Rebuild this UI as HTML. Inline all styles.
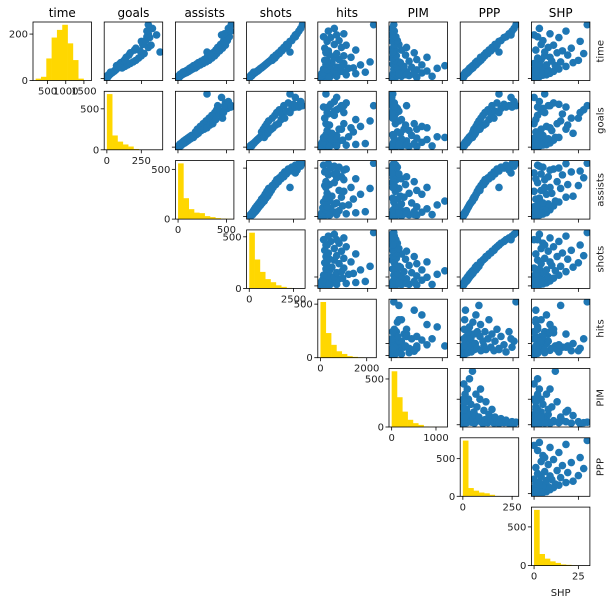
<!DOCTYPE html>
<html><head><meta charset="utf-8"><style>
html,body{margin:0;padding:0;background:#fff;}
svg{display:block;font-family:"DejaVu Sans","Liberation Sans",sans-serif;}
</style></head><body>
<svg id="chart" width="612" height="604" viewBox="0 0 612 604" xmlns="http://www.w3.org/2000/svg"></svg>
<script>
const varNames = ["time","goals","assists","shots","hits","PIM","PPP","SHP"];
const histRanges = [[171,1636],[0,386],[0,550],[0,3000],[0,2300],[0,1200],[0,270],[0,30]];
const xTicks = [[500,1000,1500],[0,250],[0,500],[0,2500],[0,2000],[0,1000],[0,250],[0,25]];
const yTicks = [[0,200],[0,500],[0,500],[0,500],[0,500],[0,500],[0,500],[0,500]];
const histTime = [8,16,95,185,218,240,160,88,8,0];
const histGoals = [680,175,100,65,40,10,0,0,0,0];
const histAssists = [560,210,100,65,60,30,20,10,5,3];
const histShots = [540,280,160,90,60,30,15,5,3,2];
const histHits = [520,230,120,60,35,15,8,3,2,1];
const histPIM = [580,310,160,75,40,22,5,2,1,1];
const histPPP = [740,110,75,50,40,20,5,2,1,1];
const histSHP = [720,150,90,55,35,15,10,3,1,1];
const histCounts = [histTime,histGoals,histAssists,histShots,histHits,histPIM,histPPP,histSHP];
// players: [time, goals, assists, shots, hits, PIM, PPP, SHP]
const players = [
[220,0,2,8,30,12,0,0],[230,1,1,15,90,40,0,1],[250,3,6,30,20,8,1,0],[240,2,9,40,160,90,2,2],
[260,6,4,70,60,200,1,0],[250,8,14,60,250,30,3,3],[280,5,18,90,120,350,2,1],[270,12,10,130,40,70,4,0],
[290,15,25,110,300,150,5,5],[280,10,30,160,90,20,8,2],[310,22,20,200,180,450,6,1],[300,18,40,170,500,100,10,7],
[330,28,35,260,70,60,12,0],[320,25,55,230,350,250,15,4],[350,35,45,320,650,600,11,2],[340,30,70,280,220,40,20,9],
[380,45,60,400,800,300,18,1],[360,40,90,350,120,150,25,6],[400,55,80,480,450,700,22,3],[390,50,110,430,950,80,30,11],
[430,65,100,560,300,500,28,0],[420,60,130,520,600,200,35,8],[470,75,120,650,1200,900,33,2],[450,70,150,600,150,50,42,14],
[500,85,140,740,700,400,40,5],[480,110,180,700,1400,120,50,1],[540,70,160,850,400,1050,48,12],[520,130,200,800,900,250,55,18],
[580,90,190,950,250,30,58,3],[560,150,230,900,1700,600,65,7],[620,100,210,1050,500,180,62,22],[600,170,260,1000,1000,80,72,0],
[660,120,240,1150,300,350,70,10],[640,190,290,1100,2100,150,80,15],[700,130,270,1250,800,500,85,4],[680,210,320,1300,200,60,90,25],
[760,140,300,1350,1300,700,88,9],[740,230,350,1450,600,20,100,2],[820,160,330,1500,400,280,105,19],[800,250,380,1550,1000,100,110,6],
[880,170,360,1650,250,450,115,13],[860,270,400,1700,700,40,125,28],[950,200,390,1800,1500,200,130,1],[930,240,430,1850,350,80,140,16],
[1020,300,410,1950,900,300,145,8],[1000,210,460,2000,200,30,155,21],[1100,260,440,2100,600,150,160,4],[1080,320,490,2200,1100,60,170,11],
[1180,250,470,2300,300,20,180,26],[1200,280,510,2400,800,120,190,5],[1280,310,500,2500,450,40,205,14],[1300,290,530,2600,150,90,215,2],
[1380,300,480,2700,1000,25,230,9],[1450,290,545,2800,350,60,245,18],[1520,330,520,2900,600,15,255,3],[1620,300,550,3000,2250,50,265,30],
[1350,360,450,2600,700,10,240,0],[900,385,300,2300,250,30,180,6],
[230,4,12,40,400,500,3,1],[260,9,20,80,700,800,5,0],[300,14,28,140,1100,300,7,2],[330,20,38,190,1500,150,9,4],[370,26,50,250,1900,450,13,1]
];
const svg = document.getElementById('chart');
const NS = 'http://www.w3.org/2000/svg';
const X0 = 33, PX = 71.2, Y0 = 22, PY = 69.3, W = 58.5, H = 58.5;
function mk(tag, attrs, parent){const e=document.createElementNS(NS,tag);for(const k in attrs)e.setAttribute(k,attrs[k]);(parent||svg).appendChild(e);return e;}
function lim(a,b){const r=b-a;return [a-0.05*r,b+0.05*r];}
function scale(d, r0, r1){return v => r0 + (v-d[0])/(d[1]-d[0])*(r1-r0);}
const dataLims = varNames.map((_,k)=>{const vals=players.map(p=>p[k]);return lim(Math.min(...vals),Math.max(...vals));});

for(let r=0;r<8;r++){
  for(let c=r;c<8;c++){
    const px = X0 + c*PX, py = Y0 + r*PY;
    const g = mk('g',{});
    
    
    let sx, sy;
    if(r===c){
      const hr = lim(histRanges[c][0],histRanges[c][1]);
      const counts = histCounts[c];
      const ymax = Math.max(...counts)*1.05;
      sx = scale(hr, px, px+W); sy = scale([0,ymax], py+H, py);
      const bw = (histRanges[c][1]-histRanges[c][0])/counts.length;
      counts.forEach((n,i)=>{
        if(n<=0) return;
        const a=histRanges[c][0]+i*bw;
        const b=mk('rect',{x:sx(a),y:sy(n),width:sx(a+bw)-sx(a)+0.3,height:sy(0)-sy(n),fill:'#ffd700'},g);
        
        
      });
      xTicks[c].forEach(t=>{const x=sx(t);mk('line',{x1:x,x2:x,y1:py+H,y2:py+H+3.5,stroke:'#000','stroke-width':0.8},g);
        const tx=mk('text',{x:x,y:py+H+14,'font-size':10,'text-anchor':'middle',fill:'#222'},g);tx.textContent=t;
        
        });
      yTicks[c].forEach(t=>{const y=sy(t);mk('line',{x1:px-3.5,x2:px,y1:y,y2:y,stroke:'#000','stroke-width':0.8},g);
        const tx=mk('text',{x:px-5,y:y+3.5,'font-size':10,'text-anchor':'end',fill:'#222'},g);tx.textContent=t;
        
        });
    } else {
      sx = scale(dataLims[c], px, px+W); sy = scale(dataLims[r], py+H, py);
      const cp = mk('clipPath',{id:'cp'+r+'_'+c},g);
      mk('rect',{x:px,y:py,width:W,height:H},cp);
      const pg = mk('g',{'clip-path':'url(#cp'+r+'_'+c+')'},g);
      players.forEach(p=>{
        const d=mk('circle',{cx:sx(p[c]),cy:sy(p[r]),r:3.8,fill:'#1f77b4'},pg);
        
        
      });
      xTicks[c].forEach(t=>{const x=sx(t);if(x>=px&&x<=px+W)mk('line',{x1:x,x2:x,y1:py+H,y2:py+H+3.5,stroke:'#000','stroke-width':0.8},g);});
      yTicks[r].forEach(t=>{const y=sy(t);if(y>=py&&y<=py+H)mk('line',{x1:px-3.5,x2:px,y1:y,y2:y,stroke:'#000','stroke-width':0.8},g);});
    }
    mk('rect',{x:px,y:py,width:W,height:H,fill:'none',stroke:'#000','stroke-width':0.8},g);
  }
}
varNames.forEach((n,i)=>{
  const t=mk('text',{x:X0+i*PX+W/2,y:17,'font-size':12,'text-anchor':'middle',fill:'#000'});
  t.textContent=n;
  
  
  if(i<7){
    const cy=Y0+i*PY+H/2, cx=600;
    const r=mk('text',{x:cx,y:cy,'font-size':10,'text-anchor':'middle',fill:'#222',transform:'rotate(-90 '+cx+' '+cy+') translate(0 3.5)'});
    r.textContent=n;
    
    
  }
});
const bl=mk('text',{x:X0+7*PX+W/2,y:596,'font-size':10,'text-anchor':'middle',fill:'#222'});
bl.textContent='SHP';


</script>
</body></html>
